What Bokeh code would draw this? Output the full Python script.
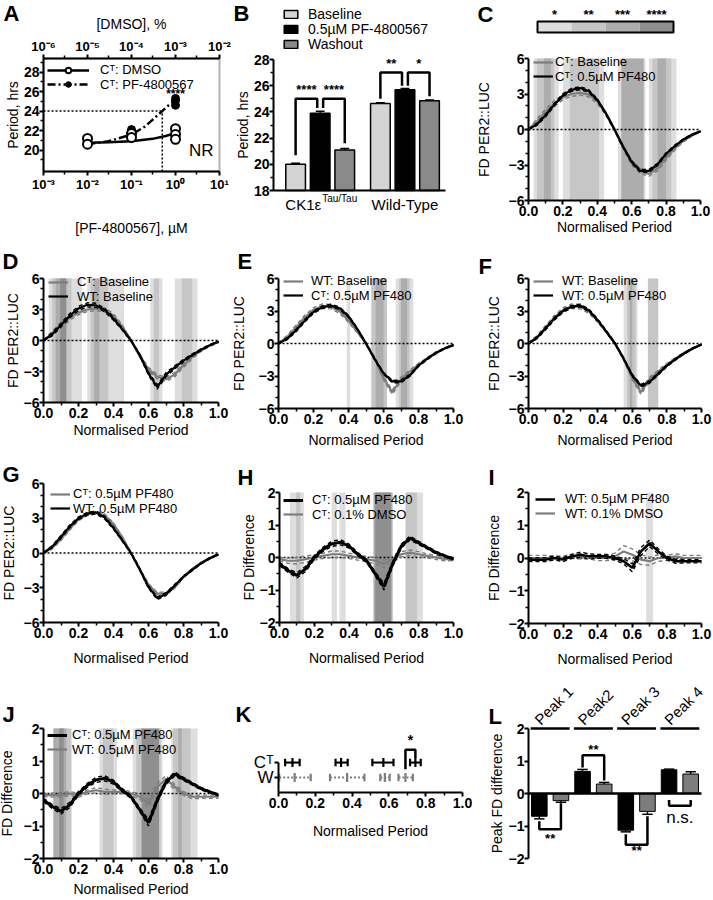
import numpy as np
from bokeh.plotting import figure
from bokeh.models import (Range1d, LogAxis, LogScale, FixedTicker, Legend, LegendItem,
                          NumeralTickFormatter, BoxAnnotation)
from bokeh.layouts import row, column
from bokeh.embed import file_html
from bokeh.resources import INLINE
from bokeh.core.properties import value

FONT = "Liberation Sans"
GREY = "#7d7d7d"
LEVEL_COLOURS = ["#dedede", "#c6c6c6", "#adadad", "#8f8f8f"]
SIG_STARS = ["*", "**", "***", "****"]

# ---------------- Panel A data ----------------
A_CONC_TICKS = [1e-3, 1e-2, 1e-1, 1.0, 10.0]
A_CONC_LABELS = ["10⁻³", "10⁻²", "10⁻¹", "10⁰", "10¹"]
A_DMSO_TICKS = [1e-6, 1e-5, 1e-4, 1e-3, 1e-2]
A_DMSO_LABELS = ["10⁻⁶", "10⁻⁵", "10⁻⁴", "10⁻³", "10⁻²"]
A_DMSO_PCT = [1e-5, 1e-5, 1e-4, 1e-4, 1e-3, 1e-3, 1e-3]
A_DMSO_PERIOD = [21.2, 20.6, 21.7, 21.3, 22.2, 21.6, 21.1]
A_PF_CONC = [0.01, 0.1, 0.1, 1.0, 1.0, 1.0]
A_PF_PERIOD = [20.7, 22.1, 21.9, 25.3, 25.1, 24.6]
A_DMSO_FIT_PCT = [1e-5, 3e-5, 1e-4, 3e-4, 6e-4, 1e-3]
A_DMSO_FIT_PERIOD = [20.75, 20.8, 20.9, 21.15, 21.45, 21.75]
A_PF_FIT_CONC = [0.01, 0.03, 0.1, 0.2, 0.3, 0.5, 0.7, 1.0]
A_PF_FIT_PERIOD = [20.6, 20.9, 21.6, 22.4, 23.1, 24.0, 24.6, 25.1]
A_EC_CONC = 0.5
A_EC_PERIOD = 24.0

# ---------------- Panel B data ----------------
B_GROUPS = ["CK1ε", "Wild-Type"]
B_SERIES = ["Baseline", "0.5µM PF-4800567", "Washout"]
B_COLOURS = ["#d4d4d4", "#000000", "#8a8a8a"]
B_MEANS = [[20.0, 23.9, 21.1], [24.65, 25.7, 24.85]]
B_ERRS = [[0.08, 0.15, 0.1], [0.05, 0.08, 0.05]]
B_BRACKETS = [  # group, bar a, bar b, top, leg a end, leg b end, stars
    (0, 0, 1, 25.0, 20.7, 24.3, "****"),
    (0, 1, 2, 25.0, 24.3, 21.6, "****"),
    (1, 0, 1, 27.0, 25.0, 26.0, "**"),
    (1, 1, 2, 27.0, 26.0, 25.2, "*"),
]

# ---------------- waveform data (C-J) ----------------
PHASE = [0.0, 0.05, 0.1, 0.15, 0.2, 0.25, 0.3, 0.35, 0.4, 0.45, 0.5,
         0.55, 0.6, 0.65, 0.7, 0.75, 0.8, 0.85, 0.9, 0.95, 1.0]
CT_BASE_MEAN = [0.0, 0.7, 1.5, 2.2, 2.7, 3.0, 3.1, 2.95, 2.4, 1.35, 0.0,
                -1.5, -2.8, -3.5, -3.75, -3.3, -2.4, -1.6, -0.95, -0.5, -0.15]
CT_BASE_SEM = [0.05, 0.2, 0.25, 0.25, 0.2, 0.2, 0.2, 0.2, 0.2, 0.15, 0.1,
               0.15, 0.2, 0.2, 0.2, 0.2, 0.2, 0.15, 0.1, 0.08, 0.05]
CT_PF_MEAN = [0.0, 0.45, 1.2, 2.1, 2.9, 3.35, 3.5, 3.25, 2.5, 1.35, 0.0,
              -1.45, -2.75, -3.5, -3.5, -2.95, -2.05, -1.4, -0.85, -0.45, -0.15]
CT_PF_SEM = [0.03, 0.1, 0.12, 0.12, 0.12, 0.12, 0.12, 0.12, 0.1, 0.08, 0.06,
             0.08, 0.1, 0.12, 0.12, 0.1, 0.08, 0.08, 0.06, 0.05, 0.03]
WT_BASE_MEAN = [0.0, 0.6, 1.5, 2.4, 3.1, 3.45, 3.4, 2.95, 2.1, 1.1, 0.0,
                -1.4, -3.2, -4.5, -3.3, -2.6, -1.95, -1.4, -0.9, -0.45, -0.1]
WT_BASE_SEM = [0.05, 0.15, 0.18, 0.2, 0.2, 0.2, 0.2, 0.18, 0.15, 0.1, 0.08,
               0.1, 0.15, 0.2, 0.2, 0.15, 0.12, 0.1, 0.08, 0.06, 0.04]
WT_PF_MEAN = [0.0, 0.55, 1.4, 2.3, 3.0, 3.4, 3.5, 3.05, 2.15, 1.1, 0.0,
              -1.4, -2.95, -3.9, -3.55, -2.8, -2.05, -1.45, -0.9, -0.45, -0.1]
WT_PF_SEM = [0.03, 0.1, 0.12, 0.12, 0.12, 0.12, 0.12, 0.12, 0.1, 0.08, 0.06,
             0.08, 0.1, 0.12, 0.12, 0.1, 0.08, 0.08, 0.06, 0.05, 0.03]
CT_PF_DIFF = [-0.2, -0.4, -0.55, -0.35, 0.0, 0.25, 0.42, 0.47, 0.35, 0.1, -0.1,
              -0.5, -0.9, -0.2, 0.35, 0.6, 0.45, 0.3, 0.15, 0.05, -0.05]
CT_PF_DIFF_SEM = [0.05, 0.06, 0.08, 0.08, 0.06, 0.06, 0.08, 0.08, 0.06, 0.05, 0.05,
                  0.06, 0.1, 0.08, 0.06, 0.06, 0.05, 0.04, 0.04, 0.03, 0.03]
CT_DMSO_DIFF = [-0.05, -0.1, -0.1, -0.05, 0.0, 0.05, 0.1, 0.1, 0.05, 0.0, -0.05,
                -0.1, -0.2, -0.05, 0.1, 0.15, 0.1, 0.05, 0.0, -0.05, -0.05]
CT_DMSO_DIFF_SEM = [0.05, 0.08, 0.1, 0.1, 0.08, 0.08, 0.1, 0.1, 0.08, 0.08, 0.08,
                    0.1, 0.12, 0.1, 0.08, 0.08, 0.08, 0.06, 0.06, 0.05, 0.05]
WT_PF_DIFF = [-0.05, -0.05, -0.05, 0.0, -0.05, 0.05, 0.1, 0.05, 0.05, 0.05, 0.0,
              -0.1, -0.3, 0.2, 0.45, 0.2, 0.0, -0.1, -0.1, -0.1, -0.1]
WT_PF_DIFF_SEM = [0.05, 0.06, 0.06, 0.06, 0.06, 0.06, 0.08, 0.08, 0.06, 0.06, 0.06,
                  0.08, 0.12, 0.12, 0.1, 0.08, 0.06, 0.06, 0.05, 0.05, 0.05]
WT_DMSO_DIFF = [0.0, 0.0, 0.0, 0.0, 0.0, 0.05, 0.05, 0.05, 0.0, 0.0, 0.05,
                0.2, 0.1, -0.05, -0.1, 0.0, 0.0, 0.05, 0.0, 0.0, 0.0]
WT_DMSO_DIFF_SEM = [0.08, 0.08, 0.08, 0.06, 0.06, 0.06, 0.08, 0.08, 0.08, 0.08, 0.1,
                    0.18, 0.18, 0.15, 0.12, 0.1, 0.08, 0.08, 0.08, 0.08, 0.08]

# significance bands: (start, end, level 1..4 = * .. ****)
BANDS_C = [(0.03, 0.175, 1), (0.05, 0.15, 2), (0.09, 0.13, 3),
           (0.2, 0.44, 1), (0.24, 0.41, 2),
           (0.52, 0.68, 1), (0.54, 0.67, 3),
           (0.7, 0.86, 1), (0.72, 0.83, 2), (0.75, 0.8, 3)]
BANDS_D = [(0.03, 0.22, 1), (0.05, 0.16, 2), (0.07, 0.13, 3), (0.095, 0.13, 4),
           (0.25, 0.46, 1), (0.27, 0.37, 2), (0.29, 0.32, 3),
           (0.61, 0.68, 1), (0.63, 0.66, 2),
           (0.75, 0.88, 1), (0.79, 0.85, 2)]
BANDS_E = [(0.39, 0.41, 1),
           (0.53, 0.62, 2), (0.555, 0.6, 3),
           (0.67, 0.77, 1), (0.69, 0.75, 2), (0.70, 0.735, 3)]
BANDS_F = [(0.55, 0.63, 1), (0.57, 0.62, 2), (0.585, 0.6, 3),
           (0.69, 0.75, 2)]
BANDS_H = [(0.06, 0.14, 1), (0.095, 0.12, 2),
           (0.30, 0.33, 1), (0.345, 0.38, 1),
           (0.54, 0.65, 3), (0.55, 0.64, 4),
           (0.725, 0.825, 1), (0.725, 0.79, 2)]
BANDS_I = [(0.68, 0.72, 1)]
BANDS_J = [(0.057, 0.16, 2), (0.057, 0.13, 3), (0.09, 0.115, 4),
           (0.32, 0.42, 1), (0.34, 0.4, 2),
           (0.51, 0.68, 1), (0.53, 0.67, 2), (0.56, 0.66, 4),
           (0.73, 0.88, 1), (0.74, 0.84, 2), (0.77, 0.79, 3)]

# ---------------- Panel K data ----------------
K_ROWS = ["Cᵀ", "W"]
K_CT_MEAN = [0.076, 0.34, 0.57, 0.744]
K_CT_LO = [0.036, 0.31, 0.51, 0.715]
K_CT_HI = [0.115, 0.376, 0.625, 0.773]
K_WT_MEAN = [0.088, 0.373, 0.578, 0.69]
K_WT_LO = [0.004, 0.28, 0.553, 0.652]
K_WT_HI = [0.175, 0.467, 0.604, 0.73]
K_SIG = (3, 2.85, 1.55, 2.3, "*")  # peak index, bracket top, WT leg end, CT leg end, text

# ---------------- Panel L data ----------------
L_PEAKS = ["Peak 1", "Peak2", "Peak 3", "Peak 4"]
L_CT_MEAN = [-0.7, 0.68, -1.13, 0.73]
L_CT_SEM = [0.08, 0.06, 0.05, 0.02]
L_WT_MEAN = [-0.22, 0.29, -0.55, 0.6]
L_WT_SEM = [0.05, 0.05, 0.09, 0.07]
L_BRACKETS = [  # bracket y, CT leg end, WT leg end, text, text y
    (-1.1, -0.85, -0.3, "**", -1.38),
    (1.18, 0.8, 0.4, "**", 1.36),
    (-1.58, -1.25, -0.7, "**", -1.75),
    (-0.38, -0.2, -0.2, "n.s.", -0.74),
]

X_TICKS = [0.0, 0.2, 0.4, 0.6, 0.8, 1.0]
X_MINOR = [0.1, 0.3, 0.5, 0.7, 0.9]
FD_TICKS = [-6, -3, 0, 3, 6]
FD_MINOR = [-5, -4, -2, -1, 1, 2, 4, 5]
DIFF_TICKS = [-2, -1, 0, 1, 2]
DIFF_MINOR = [-1.5, -0.5, 0.5, 1.5]

# geometry: fig width, fig height, axes-box left, top, width, height (pixels in the figure)
# columns 232 / 240 / 240 px, rows 238 / 208 / 222 / 231 px (page has no margin)
GEOM_A = (232, 238, 43, 58, 176, 113)
GEOM_B = (240, 238, 41, 59, 172, 131)
GEOM_C = (240, 238, 56, 58, 172, 142)
GEOM_D = (232, 208, 43, 40, 175, 124)
GEOM_E = (240, 208, 46, 40, 175, 130)
GEOM_F = (240, 208, 56, 40, 173, 130)
GEOM_G = (232, 222, 43, 37, 175, 139)
GEOM_H = (240, 222, 47, 46, 174, 130)
GEOM_I = (240, 222, 56, 46, 173, 131)
GEOM_J = (232, 231, 43, 60, 175, 130)
GEOM_K = (240, 231, 46, 94, 184, 30)
GEOM_L = (240, 231, 56, 60, 173, 130)

LEG_ROW = 14.5    # legend row pitch (px)
LEG_DY = 1        # measured offset of Bokeh legend boxes (px)


def style_axis(ax, label=None, ticks=None, minor=None, bounds=None, overrides=None,
               tick_font="14px", tick_style="bold", label_standoff=1, label_font="14px"):
    if ticks is not None:
        ax.ticker = FixedTicker(ticks=ticks, minor_ticks=minor or [])
    if bounds is not None:
        ax.bounds = bounds
    if overrides:
        ax.major_label_overrides = overrides
    ax.axis_label = label
    ax.axis_line_width = 2
    ax.axis_line_color = "black"
    ax.major_tick_line_width = 2
    ax.minor_tick_line_width = 1.5
    ax.major_tick_line_color = "black"
    ax.minor_tick_line_color = "black"
    ax.major_tick_out = 4
    ax.major_tick_in = 0
    ax.minor_tick_out = 3
    ax.minor_tick_in = 0
    ax.major_label_standoff = 1
    ax.major_label_text_font = FONT
    ax.major_label_text_font_size = tick_font
    ax.major_label_text_font_style = tick_style
    ax.major_label_text_color = "black"
    ax.axis_label_text_font = FONT
    ax.axis_label_text_font_size = label_font
    ax.axis_label_text_font_style = "normal"
    ax.axis_label_text_color = "black"
    ax.axis_label_standoff = label_standoff


class Panel:
    """A figure whose frame is the whole canvas; axes sit at fixed data locations."""

    def __init__(self, geom, xr, yr, xlog=False):
        self.w, self.h, self.fl, self.ft, self.fw, self.fh = geom
        self.xlog = xlog
        self.x0, self.x1 = xr
        self.y0, self.y1 = yr
        self.lx0 = np.log10(self.x0) if xlog else self.x0
        self.lx1 = np.log10(self.x1) if xlog else self.x1
        p = figure(width=self.w, height=self.h,
                   x_range=Range1d(self.X(0), self.X(self.w)),
                   y_range=Range1d(self.Y(self.h), self.Y(0)),
                   x_axis_type="log" if xlog else "linear",
                   output_backend="svg", toolbar_location=None, title=None,
                   min_border_left=0, min_border_right=0, min_border_top=0,
                   min_border_bottom=0)
        p.xgrid.visible = False
        p.ygrid.visible = False
        p.outline_line_color = None
        self.xaxis = p.xaxis[0]
        self.yaxis = p.yaxis[0]
        self.xaxis.fixed_location = self.y0
        self.yaxis.fixed_location = self.x0
        self.p = p

    def X(self, px):
        v = self.lx0 + (px - self.fl) * (self.lx1 - self.lx0) / self.fw
        return float(10 ** v) if self.xlog else float(v)

    def Y(self, py):
        return float(self.y1 - (py - self.ft) * (self.y1 - self.y0) / self.fh)

    def label(self, px, py, text, size="14px", style="normal", align="left",
              baseline="middle"):
        self.p.text(x=[self.X(px)], y=[self.Y(py)], text=[text], text_font=value(FONT),
                    text_font_size=size, text_font_style=style, text_align=align,
                    text_baseline=baseline, text_color="black")

    def letter(self, text, px, py):
        self.label(px, py, text, size="22px", style="bold", baseline="top")

    def legend(self, label, renderers, px, cy, glyph_w=20, standoff=8, font="13px",
               glyph_h=None, index=None, pitch=LEG_ROW):
        kw = {} if index is None else {"index": index}
        item = LegendItem(label=label, renderers=renderers, **kw)
        leg = Legend(items=[item],
                     location=(px, self.h - cy - pitch / 2.0 - LEG_DY),
                     margin=0, padding=0, spacing=0, label_height=14,
                     glyph_height=glyph_h or 14, glyph_width=glyph_w,
                     label_standoff=standoff, label_text_font=FONT,
                     label_text_font_size=font, label_text_color="black",
                     border_line_color=None, background_fill_alpha=0)
        self.p.add_layout(leg)


def draw_bands(p, spec, lo, hi):
    for lev in (1, 2, 3, 4):
        sel = [b for b in spec if b[2] == lev]
        if sel:
            p.quad(left=[b[0] for b in sel], right=[b[1] for b in sel], bottom=lo, top=hi,
                   fill_color=LEVEL_COLOURS[lev - 1], line_color=None)


def draw_curve(p, mean, sem, colour, width):
    m = np.asarray(mean, float)
    s = np.asarray(sem, float)
    p.line(PHASE, m + s, line_color=colour, line_width=1.4, line_dash="4 3")
    p.line(PHASE, m - s, line_color=colour, line_width=1.4, line_dash="4 3")
    return p.line(PHASE, m, line_color=colour, line_width=width)


def phase_panel(geom, kind, bands, grey, black, labels, black_first, letter, lpos, legpos,
                xl_standoff=1, yl_standoff=0, black_width=2.2):
    if kind == "fd":
        lo, hi, ticks, minor, ylabel = -6, 6, FD_TICKS, FD_MINOR, "FD PER2::LUC"
    else:
        lo, hi, ticks, minor, ylabel = -2, 2, DIFF_TICKS, DIFF_MINOR, "FD Difference"
    P = Panel(geom, (0, 1), (lo, hi))
    p = P.p
    draw_bands(p, bands, lo, hi)
    p.segment(x0=[P.x0], y0=[0], x1=[P.x1], y1=[0], line_color="black", line_dash="2 2",
              line_width=1.5)
    rg = draw_curve(p, grey[0], grey[1], GREY, 2.2)
    rb = draw_curve(p, black[0], black[1], "black", black_width)
    style_axis(P.xaxis, "Normalised Period", X_TICKS, X_MINOR, (0, 1),
               label_standoff=xl_standoff)
    P.xaxis.formatter = NumeralTickFormatter(format="0.0")
    style_axis(P.yaxis, ylabel, ticks, minor, (lo, hi), label_standoff=yl_standoff)
    P.yaxis.major_label_standoff = 0
    entries = [(labels[0], rg), (labels[1], rb)]
    if black_first:
        entries = entries[::-1]
    gx, c1, standoff = legpos
    for k, (lab, r) in enumerate(entries):
        P.legend(lab, [r], gx, c1 + k * LEG_ROW, standoff=standoff)
    P.letter(letter, *lpos)
    return P


# ================= Panel A =================
PA = Panel(GEOM_A, (1e-3, 10.0), (17.8, 29.4), xlog=True)
pA = PA.p
pA.extra_x_ranges = {"dmso": Range1d(pA.x_range.start * 1e-3, pA.x_range.end * 1e-3)}
pA.extra_x_scales = {"dmso": LogScale()}
topA = LogAxis(x_range_name="dmso", fixed_location=PA.y1)
pA.add_layout(topA, "above")
pA.add_layout(BoxAnnotation(left=PA.x0, right=PA.x1, bottom=PA.y0, top=PA.y1,
                            fill_alpha=0, line_color="black", line_width=2))
style_axis(PA.xaxis, "[PF-4800567], µM", A_CONC_TICKS, [3e-3, 3e-2, 3e-1, 3.0],
           bounds=(PA.x0, PA.x1), overrides=dict(zip(A_CONC_TICKS, A_CONC_LABELS)),
           label_standoff=25, tick_font="13px")
style_axis(topA, "[DMSO], %", A_DMSO_TICKS, [3e-6, 3e-5, 3e-4, 3e-3],
           bounds=(A_DMSO_TICKS[0], A_DMSO_TICKS[-1]),
           overrides=dict(zip(A_DMSO_TICKS, A_DMSO_LABELS)), label_standoff=4,
           tick_font="13px")
style_axis(PA.yaxis, "Period, hrs", [20, 22, 24, 26, 28], [19, 21, 23, 25, 27, 29],
           bounds=(PA.y0, PA.y1), label_standoff=0)
PA.yaxis.major_label_standoff = 0
pA.line([PA.x0, A_EC_CONC], [A_EC_PERIOD, A_EC_PERIOD], line_color="black",
        line_dash="2 2", line_width=1.5)
pA.line([A_EC_CONC, A_EC_CONC], [PA.y0, A_EC_PERIOD], line_color="black",
        line_dash="2 2", line_width=1.5)
r_pf_line = pA.line(A_PF_FIT_CONC, A_PF_FIT_PERIOD, line_color="black", line_width=2.5,
                    line_dash="8 3 2 3")
r_pf_pts = pA.scatter(A_PF_CONC, A_PF_PERIOD, marker="circle", size=8,
                      fill_color="black", line_color="black")
r_dm_line = pA.line(A_DMSO_FIT_PCT, A_DMSO_FIT_PERIOD, x_range_name="dmso",
                    line_color="black", line_width=2.5)
r_dm_pts = pA.scatter(A_DMSO_PCT, A_DMSO_PERIOD, x_range_name="dmso", marker="circle",
                      size=9, fill_color="white", line_color="black", line_width=2)
pA.text(x=[1.0], y=[25.8], text=["****"], text_font=value(FONT), text_font_size="12px",
        text_font_style="bold", text_align="center", text_baseline="middle")
PA.label(213, 150, "NR", size="17px", align="right")
PA.legend("Cᵀ: DMSO", [r_dm_line, r_dm_pts], 47, 69, glyph_w=42, standoff=11)
PA.legend("Cᵀ: PF-4800567", [r_pf_line, r_pf_pts], 47, 69 + LEG_ROW, glyph_w=42,
          standoff=11)
PA.letter("A", 3, 0)

# ================= Panel B =================
PB = Panel(GEOM_B, (-0.9, 6.1), (18, 28))
pB = PB.p
GROUP_PITCH = 3.45
bx, btop, bcol, berr = [], [], [], []
for g in range(len(B_GROUPS)):
    for s in range(len(B_SERIES)):
        bx.append(g * GROUP_PITCH + s)
        btop.append(B_MEANS[g][s])
        bcol.append(B_COLOURS[s])
        berr.append(B_ERRS[g][s])
bx = np.array(bx)
btop = np.array(btop)
berr = np.array(berr)
rB = pB.vbar(x=bx, top=btop, bottom=PB.y0, width=0.8, fill_color=bcol, line_color="black",
             line_width=1.5)
pB.segment(bx, btop, bx, btop + berr, line_color="black", line_width=1.5)
pB.segment(bx - 0.18, btop + berr, bx + 0.18, btop + berr, line_color="black", line_width=1.5)
for g, a, b, top, la, lb, stars in B_BRACKETS:
    xa = g * GROUP_PITCH + a + (0.12 if a == 1 else 0)
    xb = g * GROUP_PITCH + b - (0.12 if b == 1 else 0)
    pB.line([xa, xa, xb, xb], [la, top, top, lb], line_color="black", line_width=2.5)
    pB.text(x=[(xa + xb) / 2], y=[top + 0.12], text=[stars], text_font=value(FONT),
            text_font_size="13px", text_font_style="bold", text_align="center",
            text_baseline="bottom")
style_axis(PB.yaxis, "Period, hrs", [18, 20, 22, 24, 26, 28], [19, 21, 23, 25, 27],
           bounds=(18, 28), label_standoff=0)
PB.yaxis.major_label_standoff = 0
style_axis(PB.xaxis, None, [], [], bounds=(PB.x0, PB.x1))
PB.xaxis.major_tick_out = 0
PB.xaxis.minor_tick_out = 0
for g, name in enumerate(B_GROUPS):
    cx = g * GROUP_PITCH + 1
    if g == 0:
        pB.text(x=[cx], y=[PB.Y(204)], x_offset=1, text=[name], text_font=value(FONT),
                text_font_size="15px", text_align="right", text_baseline="middle")
        pB.text(x=[cx], y=[PB.Y(198)], x_offset=2, text=["Tau/Tau"], text_font=value(FONT),
                text_font_size="10px", text_align="left", text_baseline="middle")
    else:
        pB.text(x=[cx], y=[PB.Y(204)], text=[name], text_font=value(FONT),
                text_font_size="15px", text_align="center", text_baseline="middle")
for i in range(len(B_SERIES)):
    PB.legend(B_SERIES[i], [rB], 50, 13.5 + i * 15, glyph_w=17, glyph_h=10, standoff=9,
              font="14px", index=i, pitch=15)
PB.letter("B", 1, 0)

# ================= Panel C =================
PC = phase_panel(GEOM_C, "fd", BANDS_C, (CT_BASE_MEAN, CT_BASE_SEM), (CT_PF_MEAN, CT_PF_SEM),
                 ("Cᵀ: Baseline", "Cᵀ: 0.5µM PF480"), False, "C", (5, 1), (61, 61, 2),
                 xl_standoff=0, yl_standoff=14)
pC = PC.p
KEY_LEFT_PX, KEY_RIGHT_PX, KEY_TOP_PX, KEY_BOTTOM_PX, KEY_STAR_PX = 65, 201, 21, 32, 14
key_edges = np.linspace(PC.X(KEY_LEFT_PX), PC.X(KEY_RIGHT_PX), len(SIG_STARS) + 1)
pC.quad(left=key_edges[:-1], right=key_edges[1:], bottom=PC.Y(KEY_BOTTOM_PX),
        top=PC.Y(KEY_TOP_PX), fill_color=LEVEL_COLOURS, line_color=None)
pC.quad(left=[key_edges[0]], right=[key_edges[-1]], bottom=[PC.Y(KEY_BOTTOM_PX)],
        top=[PC.Y(KEY_TOP_PX)], fill_color=None, line_color="black", line_width=2)
pC.text(x=(key_edges[:-1] + key_edges[1:]) / 2, y=[PC.Y(KEY_STAR_PX)] * len(SIG_STARS),
        text=SIG_STARS, text_font=value(FONT), text_font_size="13px",
        text_font_style="bold", text_align="center", text_baseline="middle")

# ================= Panels D-J =================
PD = phase_panel(GEOM_D, "fd", BANDS_D, (CT_BASE_MEAN, CT_BASE_SEM),
                 (WT_BASE_MEAN, WT_BASE_SEM), ("Cᵀ: Baseline", "WT: Baseline"), False,
                 "D", (2, 10), (48, 43, 9), xl_standoff=1, yl_standoff=0)
PE = phase_panel(GEOM_E, "fd", BANDS_E, (WT_BASE_MEAN, WT_BASE_SEM),
                 (CT_PF_MEAN, CT_PF_SEM), ("WT: Baseline", "Cᵀ: 0.5µM PF480"), False,
                 "E", (5, 10), (51, 42, 8), xl_standoff=5, yl_standoff=9)
PF = phase_panel(GEOM_F, "fd", BANDS_F, (WT_BASE_MEAN, WT_BASE_SEM),
                 (WT_PF_MEAN, WT_PF_SEM), ("WT: Baseline", "WT: 0.5µM PF480"), False,
                 "F", (6, 15), (61, 42, 9), xl_standoff=5, yl_standoff=4)
PG = phase_panel(GEOM_G, "fd", [], (CT_PF_MEAN, CT_PF_SEM), (WT_PF_MEAN, WT_PF_SEM),
                 ("Cᵀ: 0.5µM PF480", "WT: 0.5µM PF480"), False, "G", (2, 15),
                 (50, 47, 3), xl_standoff=9, yl_standoff=4)
PH = phase_panel(GEOM_H, "diff", BANDS_H, (CT_DMSO_DIFF, CT_DMSO_DIFF_SEM),
                 (CT_PF_DIFF, CT_PF_DIFF_SEM), ("Cᵀ: 0.1% DMSO", "Cᵀ: 0.5µM PF480"), True,
                 "H", (5, 18), (51, 53, 9), xl_standoff=9, yl_standoff=0, black_width=3)
PI = phase_panel(GEOM_I, "diff", BANDS_I, (WT_DMSO_DIFF, WT_DMSO_DIFF_SEM),
                 (WT_PF_DIFF, WT_PF_DIFF_SEM), ("WT: 0.1% DMSO", "WT: 0.5µM PF480"), True,
                 "I", (16, 18), (63, 52, 10), xl_standoff=9, yl_standoff=4, black_width=2.5)
PJ = phase_panel(GEOM_J, "diff", BANDS_J, (WT_PF_DIFF, WT_PF_DIFF_SEM),
                 (CT_PF_DIFF, CT_PF_DIFF_SEM), ("WT: 0.5µM PF480", "Cᵀ: 0.5µM PF480"), True,
                 "J", (2, 33), (47, 66, 5), xl_standoff=4, yl_standoff=6, black_width=3)

# ================= Panel K =================
PK = Panel(GEOM_K, (0, 1), (0, 2))
pK = PK.p
K_SPECS = [(2, K_CT_MEAN, K_CT_LO, K_CT_HI, "black", None),
           (1, K_WT_MEAN, K_WT_LO, K_WT_HI, GREY, "2 2")]
for yrow, mean, lo, hi, colour, dash in K_SPECS:
    n = len(mean)
    yy = [yrow] * n
    seg_kw = dict(line_color=colour, line_width=2.2)
    if dash:
        pK.segment(lo, yy, hi, yy, line_dash=dash, **seg_kw)
    else:
        pK.segment(lo, yy, hi, yy, **seg_kw)
    for xs in (lo, hi):
        pK.segment(xs, [yrow - 0.25] * n, xs, [yrow + 0.25] * n, **seg_kw)
    pK.segment(mean, [yrow - 0.3] * n, mean, [yrow + 0.3] * n, **seg_kw)
ki, ktop, kwt_end, kct_end, ktext = K_SIG
pK.line([K_WT_MEAN[ki], K_WT_MEAN[ki], K_CT_MEAN[ki], K_CT_MEAN[ki]],
        [kwt_end, ktop, ktop, kct_end], line_color="black", line_width=2.5)
pK.text(x=[(K_WT_MEAN[ki] + K_CT_MEAN[ki]) / 2], y=[ktop + 0.1], text=[ktext],
        text_font=value(FONT), text_font_size="14px", text_font_style="bold",
        text_align="center", text_baseline="bottom")
style_axis(PK.xaxis, "Normalised Period", X_TICKS, X_MINOR, (0, 1), label_standoff=12)
PK.xaxis.formatter = NumeralTickFormatter(format="0.0")
style_axis(PK.yaxis, None, [2, 1], [], (0, 2), overrides={2: K_ROWS[0], 1: K_ROWS[1]},
           tick_font="17px", tick_style="normal")
PK.letter("K", 3, 33)

# ================= Panel L =================
PL = Panel(GEOM_L, (0, 4), (-2, 2))
pL = PL.p
ng = len(L_PEAKS)
ct_x = np.array([g + 0.25 for g in range(ng)])
wt_x = np.array([g + 0.75 for g in range(ng)])
for xs, means, sems, colour in ((ct_x, L_CT_MEAN, L_CT_SEM, "black"),
                                (wt_x, L_WT_MEAN, L_WT_SEM, GREY)):
    m = np.array(means)
    e = np.sign(m) * np.array(sems)
    pL.segment(xs, m, xs, m + e, line_color="black", line_width=1.5)
    pL.segment(xs - 0.12, m + e, xs + 0.12, m + e, line_color="black", line_width=1.5)
    pL.vbar(x=xs, top=m, bottom=0, width=0.36, fill_color=colour, line_color="black",
            line_width=1)
gidx = np.arange(ng)
pL.segment(gidx + 0.05, [PL.y1] * ng, gidx + 0.95, [PL.y1] * ng, line_color="black",
           line_width=2.5)
pL.text(x=gidx + 0.2, y=[2.2] * ng, text=L_PEAKS, angle=np.pi / 4, text_font=value(FONT),
        text_font_size="15px", text_align="left", text_baseline="middle")
for g, (by, lct, lwt, txt, ty) in enumerate(L_BRACKETS):
    pL.line([ct_x[g], ct_x[g], wt_x[g], wt_x[g]], [lct, by, by, lwt], line_color="black",
            line_width=2.5)
    big = txt == "n.s."
    pL.text(x=[(ct_x[g] + wt_x[g]) / 2], y=[ty], text=[txt], text_font=value(FONT),
            text_font_size="17px" if big else "13px",
            text_font_style="normal" if big else "bold",
            text_align="center", text_baseline="middle")
PL.xaxis.fixed_location = 0
style_axis(PL.xaxis, None, [], [], (PL.x0, PL.x1))
PL.xaxis.axis_line_width = 2.5
PL.xaxis.major_tick_out = 0
PL.xaxis.minor_tick_out = 0
style_axis(PL.yaxis, "Peak FD difference", DIFF_TICKS, [], (-2, 2), label_standoff=1)
PL.yaxis.major_label_standoff = 0
PL.letter("L", 16, 35)

layout = column(row(PA.p, PB.p, PC.p), row(PD.p, PE.p, PF.p),
                row(PG.p, PH.p, PI.p), row(PJ.p, PK.p, PL.p))
open("out.html", "w").write(file_html(layout, INLINE))
